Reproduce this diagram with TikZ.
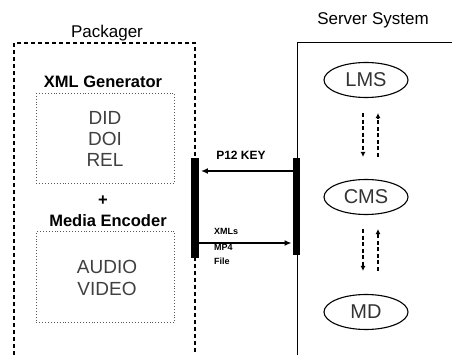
\documentclass[tikz,border=0pt]{standalone}
\usepackage{fontspec}
\setmainfont{Liberation Sans}
\usetikzlibrary{shapes.geometric,arrows.meta,calc}
\begin{document}
\begin{tikzpicture}[x=1pt,y=-1pt,
  lbl/.style={anchor=base,inner sep=0,font=\fontsize{17}{20}\selectfont},
  blbl/.style={anchor=base,inner sep=0,font=\fontsize{16.5}{20}\selectfont\bfseries},
  itm/.style={anchor=base,inner sep=0,text=black!75,font=\fontsize{19}{22}\selectfont},
  inbox/.style={draw=black!65,dotted,line width=0.9pt,inner sep=0,anchor=north west},
  bar/.style={fill=black,draw=none,inner sep=0,minimum width=7.5,anchor=north},
  sys/.style={ellipse,draw,line width=1.1pt,minimum width=84,minimum height=35,inner sep=0,text=black!80,font=\fontsize{20}{22}\selectfont},
  pkgframe/.style={line width=2pt,dash pattern=on 4pt off 3pt},
  srvframe/.style={line width=0.9pt},
  keyarrow/.style={line width=1.8pt,-{Latex[length=7,width=6]}},
  darr/.style={line width=2.3pt,dash pattern=on 4pt off 2.5pt,-{Latex[length=5,width=5]}},
  small/.style={anchor=base,inner sep=0,font=\fontsize{12}{14}\selectfont\bfseries},
  tiny/.style={anchor=base west,inner sep=0,font=\fontsize{9}{10}\selectfont\bfseries}
]
\useasboundingbox (0,0) rectangle (452,355);
% frames
\draw[pkgframe] (14,355) -- (14,43) -- (195,43) -- (195,355);
\draw[srvframe] (297,355) -- (297,42) -- (452,42);
% titles
\node[lbl] (pkg) at (107,38) {Packager};
\node[lbl] (srv) at (373,25) {Server System};
% XML generator
\node[blbl] (xmlg) at (103,88) {XML Generator};
\node[inbox,minimum width=138,minimum height=90] (xmlbox) at (36,93) {};
\node[itm] (did) at (105,125) {DID};
\node[itm] (doi) at (105,146) {DOI};
\node[itm] (rel) at (105,167) {REL};
\node[blbl] (plus) at (103,206) {+};
% media encoder
\node[blbl] (mediag) at (108,227) {Media Encoder};
\node[inbox,minimum width=138,minimum height=91] (mediabox) at (36,231) {};
\node[itm] (audio) at (107,273) {AUDIO};
\node[itm] (video) at (107,295) {VIDEO};
% bars
\node[bar,minimum height=100] (lbar) at (195,158) {};
\node[bar,minimum height=97] (rbar) at (296.5,158) {};
% arrows between bars
\coordinate (p12y) at (0,171);
\coordinate (xmly) at (0,243);
\draw[keyarrow,shorten >=2] (rbar.west |- p12y) -- (lbar.east |- p12y);
\draw[keyarrow,shorten >=1] (lbar.east |- xmly) -- (rbar.west |- xmly);
\node[small] (p12) at (241,160) {P12 KEY};
\node[tiny] (xmls) at (214,235) {XMLs};
\node[tiny] (mp4) at (214,251) {MP4};
\node[tiny] (file) at (214,264) {File};
% server components
\node[sys] (lms) at (366,80) {LMS};
\node[sys] (cms) at (366,197) {CMS};
\node[sys] (md) at (366,312) {MD};
\draw[darr,shorten <=15,shorten >=22] ([xshift=-3]lms.south) -- ([xshift=-3]cms.north);
\draw[darr,shorten <=22,shorten >=15] ([xshift=12]cms.north) -- ([xshift=12]lms.south);
\draw[darr,shorten <=14,shorten >=23] ([xshift=-3]cms.south) -- ([xshift=-3]md.north);
\draw[darr,shorten <=23,shorten >=14] ([xshift=12]md.north) -- ([xshift=12]cms.south);
\end{tikzpicture}
\end{document}
